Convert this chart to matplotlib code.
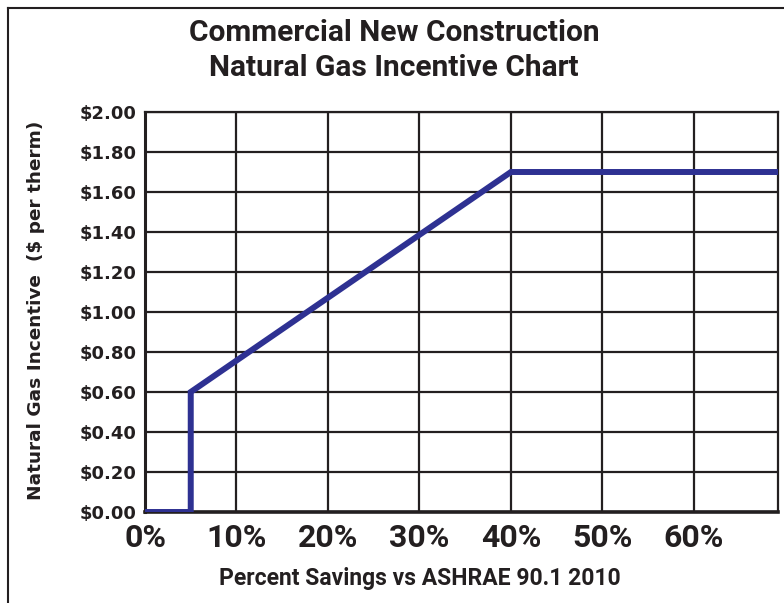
"""Commercial new construction natural gas incentive chart -> out.png"""
import matplotlib

matplotlib.use("Agg")
import matplotlib.pyplot as plt  # noqa: E402
from matplotlib.lines import Line2D  # noqa: E402

# incentive curve: percent savings vs $ per therm
SAVINGS = [0, 5, 5, 40, 70]
INCENTIVE = [0.0, 0.0, 0.60, 1.70, 1.70]

X_TICKS = [0, 10, 20, 30, 40, 50, 60]
X_LABELS = ["0%", "10%", "20%", "30%", "40%", "50%", "60%"]
Y_TICKS = [0.0, 0.2, 0.4, 0.6, 0.8, 1.0, 1.2, 1.4, 1.6, 1.8, 2.0]
Y_LABELS = [f"${v:.2f}" for v in Y_TICKS]

TITLE = "Commercial New Construction\nNatural Gas Incentive Chart"
XLABEL = "Percent Savings vs ASHRAE 90.1 2010"
YLABEL = "Natural Gas Incentive  ($ per therm)"

INK = "#231f20"
BLUE = "#2e3192"
NARROW = ["Roboto", "DejaVu Sans"]
WIDE = ["DejaVu Sans"]

fig = plt.figure(figsize=(7.84, 6.03), dpi=100)
ax = fig.add_axes([145 / 784, 91 / 603, 633 / 784, 400 / 603])

ax.plot(SAVINGS, INCENTIVE, color=BLUE, lw=4.3, solid_joinstyle="miter", zorder=3)
ax.set_xlim(0, 69.2)
ax.set_ylim(0, 2.0)

ax.set_xticks(X_TICKS)
ax.set_xticklabels(X_LABELS, family=NARROW, fontweight="bold", fontsize=23, color=INK)
ax.set_yticks(Y_TICKS)
ax.set_yticklabels(Y_LABELS, family=WIDE, fontweight="bold", fontsize=13, color=INK)
ax.tick_params(axis="x", length=0, pad=8)
ax.tick_params(axis="y", length=0, pad=6)

ax.grid(color=INK, lw=1.6)
ax.set_axisbelow(True)
for s in ax.spines.values():
    s.set_color(INK)
    s.set_linewidth(1.6)
ax.spines["bottom"].set_linewidth(2.6)
ax.spines["left"].set_linewidth(2.2)

ax.set_xlabel(XLABEL, family=NARROW, fontweight="bold", fontsize=16.5, color=INK)
ax.xaxis.set_label_coords((420 - 145) / 633, -(578 - 512) / 400)
ax.xaxis.label.set_va("center")
ax.set_ylabel(YLABEL, family=WIDE, fontweight="bold", fontsize=13.3, color=INK)
ax.yaxis.set_label_coords((45 - 145) / 633, 0.505)
fig.text(394 / 784, 1 - 50.5 / 603, TITLE, ha="center", va="center", family=NARROW,
         fontweight="bold", fontsize=21.5, color=INK, linespacing=1.32)

# outer frame (left and top edges visible)
fig.add_artist(Line2D([8 / 784, 8 / 784], [0, 1 - 8 / 603], transform=fig.transFigure,
                      color=INK, lw=1.5))
fig.add_artist(Line2D([8 / 784, 1], [1 - 8 / 603, 1 - 8 / 603], transform=fig.transFigure,
                      color=INK, lw=1.5))

fig.savefig("out.png", dpi=100)
